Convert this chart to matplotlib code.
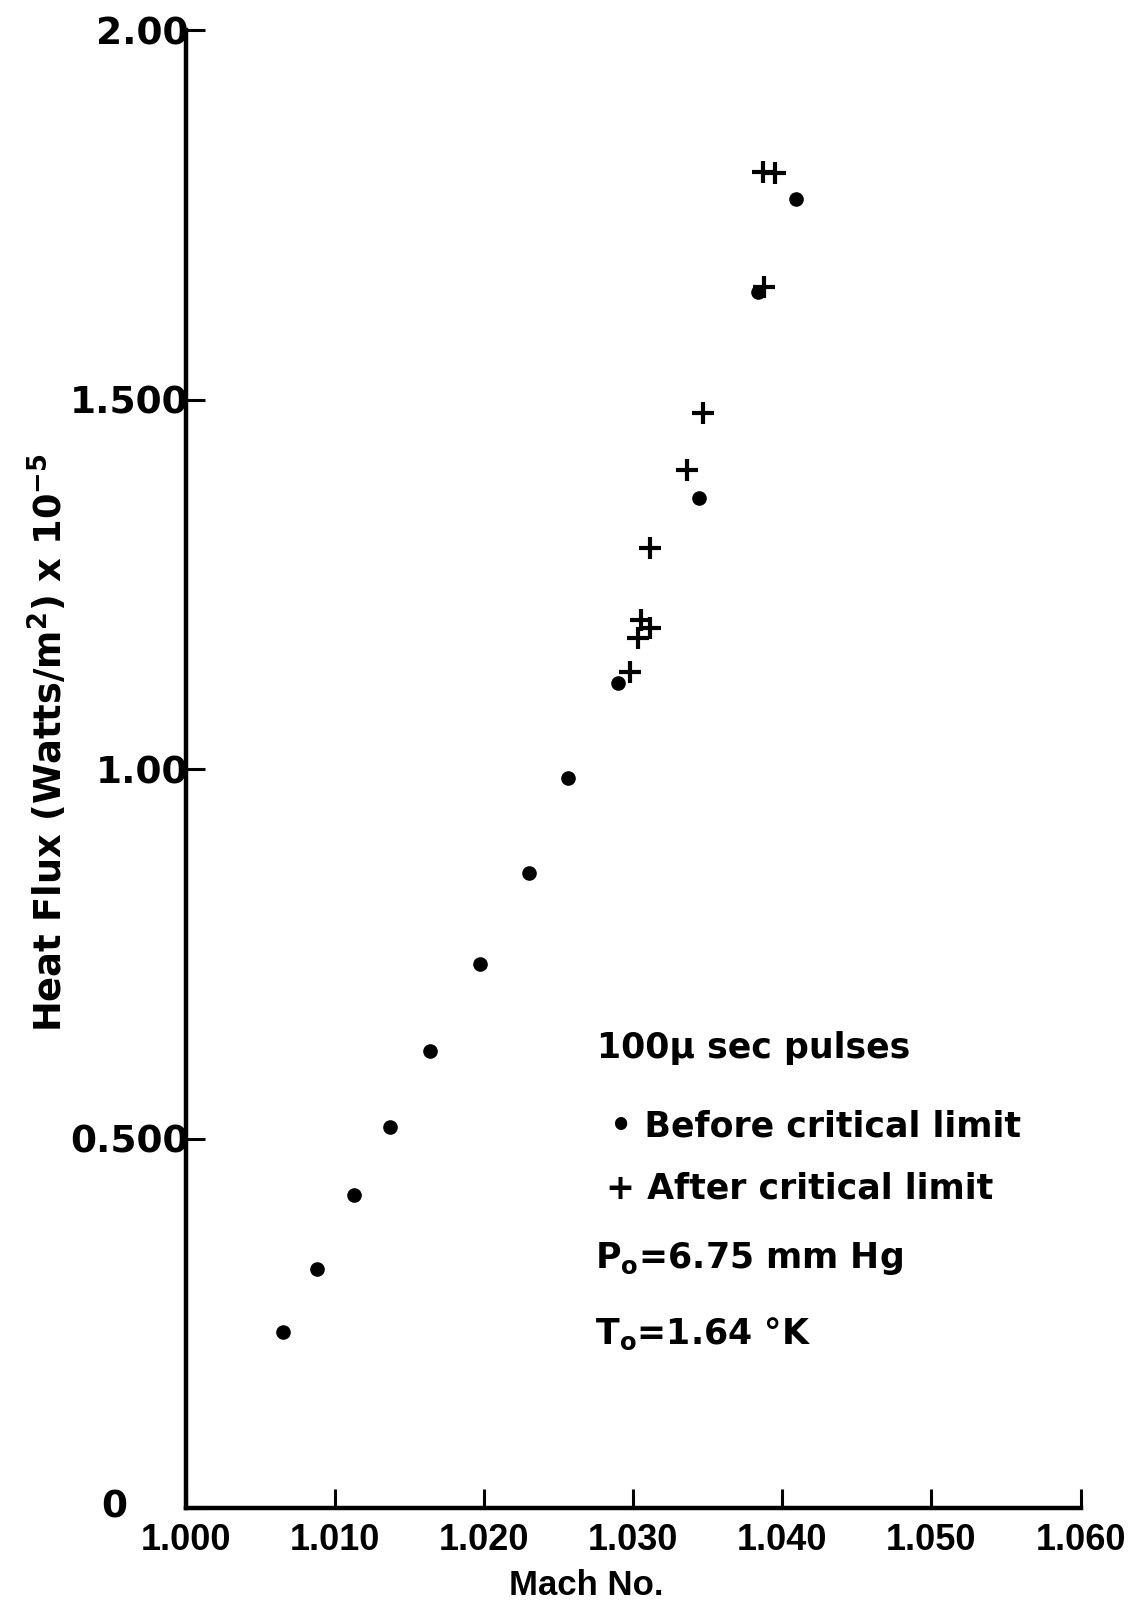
import numpy as np
import matplotlib
matplotlib.use("Agg")
import matplotlib.pyplot as plt

plt.rcParams['font.family'] = ['DejaVu Sans']
plt.rcParams['font.weight'] = 'bold'
plt.rcParams['axes.labelweight'] = 'bold'
plt.rcParams['mathtext.default'] = 'regular'

# before critical limit (dots)
mach_before = [1.0065, 1.0088, 1.0113, 1.0137, 1.0164, 1.0197, 1.0230, 1.0256,
               1.0290, 1.0344, 1.0384, 1.0409]
flux_before = [0.238, 0.324, 0.424, 0.516, 0.619, 0.736, 0.859, 0.988,
               1.117, 1.367, 1.646, 1.771]

# after critical limit (crosses)
mach_after = [1.0298, 1.0303, 1.0311, 1.0305, 1.0311, 1.0336, 1.0347,
              1.0388, 1.0387, 1.0395]
flux_after = [1.131, 1.177, 1.191, 1.202, 1.299, 1.405, 1.482,
              1.653, 1.808, 1.806]

xticks = [1.000, 1.010, 1.020, 1.030, 1.040, 1.050, 1.060]
xtick_labels = ["1.000", "1.010", "1.020", "1.030", "1.040", "1.050", "1.060"]
yticks = [0, 0.5, 1.0, 1.5, 2.0]
ytick_labels = ["", "0.500", "1.00", "1.500", "2.00"]

fig = plt.figure(figsize=(11.41, 16.02), dpi=100)
ax = fig.add_axes([0.163, 0.0587, 0.784, 0.9225])

ax.plot(mach_before, flux_before, 'o', color='black', markersize=9.5, linestyle='none')
ax.plot(mach_after, flux_after, '+', color='black', markersize=16, mew=3, linestyle='none')

ax.set_xlim(1.000, 1.060)
ax.set_ylim(0, 2.0)

for s in ['top', 'right']:
    ax.spines[s].set_visible(False)
for s in ['left', 'bottom']:
    ax.spines[s].set_linewidth(3.2)

ax.set_xticks(xticks)
ax.set_xticklabels(xtick_labels, family='Liberation Sans', fontsize=26, fontweight='bold')
ax.set_yticks(yticks)
ax.set_yticklabels(ytick_labels, fontsize=27, fontweight='bold')
ax.tick_params(axis='both', direction='in', length=14, width=2.2)
ax.tick_params(axis='x', pad=11)
ax.tick_params(axis='y', pad=-2)

# the zero label sits away from the axis
ax.annotate("0", xy=(0, 0), xycoords=('axes fraction', 'data'),
            xytext=(-52, 0), textcoords='offset points',
            ha='center', va='center', fontsize=27)

ax.set_xlabel("Mach No.", family='Liberation Sans', fontsize=25)
ax.xaxis.set_label_coords(0.448, -0.041)
ax.set_ylabel(r"Heat Flux (Watts/m$^{2}$) x 10$^{-5}$", fontsize=26.5)
ax.yaxis.set_label_coords(-0.129, 0.518)

tx = dict(transform=ax.transAxes, fontsize=25, va='center', ha='left')
ax.text(0.460, 0.311, "100\u03bc sec pulses", **tx)
ax.text(0.474, 0.258, "\u2022 Before critical limit", **tx)
ax.text(0.470, 0.2165, "+ After critical limit", **tx)
ax.text(0.457, 0.169, r"P$_o$=6.75 mm Hg", **tx)
ax.text(0.457, 0.118, "T$_o$=1.64 \u00b0K", **tx)

fig.savefig("out.png", dpi=100)
